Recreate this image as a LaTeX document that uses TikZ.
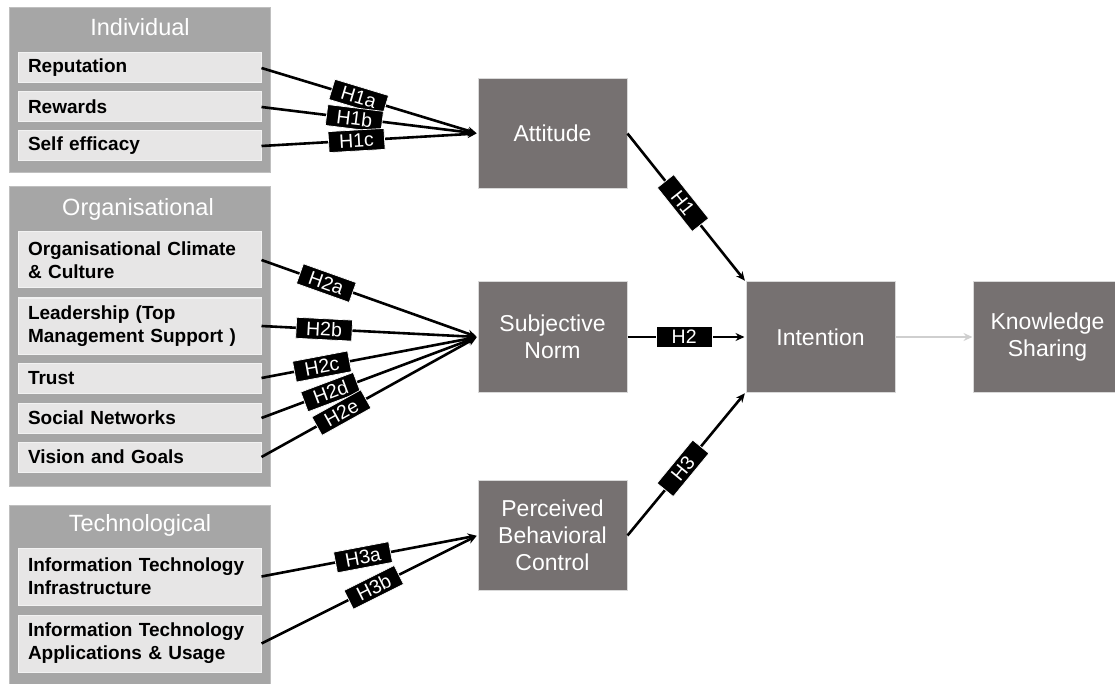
\documentclass[tikz,border=0pt]{standalone}
\usepackage{fontspec}
\setmainfont{Liberation Sans}
\usetikzlibrary{arrows.meta}
\definecolor{grp}{HTML}{A6A6A6}
\definecolor{grpb}{HTML}{BFBFBF}
\definecolor{itm}{HTML}{E7E6E6}
\definecolor{itmb}{HTML}{F2F2F2}
\definecolor{dark}{HTML}{767171}
\definecolor{darkb}{HTML}{D9D9D9}
\definecolor{ksarrow}{HTML}{CFCFCF}
\begin{document}
\begin{tikzpicture}[x=1pt,y=-1pt,
  grpbox/.style={fill=grp,draw=grpb,line width=1pt,minimum width=261pt,inner sep=0pt},
  grptitle/.style={text=white,font=\fontsize{23.5}{27}\selectfont,inner sep=0pt},
  itembox/.style={fill=itm,draw=itmb,line width=1pt,minimum width=243pt,text width=223pt,inner xsep=10pt,inner ysep=0pt,align=left,font=\bfseries\fontsize{19}{23}\selectfont},
  cbox/.style={fill=dark,draw=darkb,line width=1pt,minimum width=149pt,minimum height=110pt,text=white,align=center,font=\fontsize{23}{27}\selectfont},
  conn/.style={line width=2.6pt,-{Stealth[length=9pt,width=8pt]},shorten >=1pt},
  hlabel/.style={fill=black,draw=white,line width=0.7pt,text=white,font=\fontsize{19.5}{21}\selectfont,minimum width=56pt,minimum height=21pt,inner sep=0pt,sloped}]
\useasboundingbox (0,0) rectangle (1115,684);

% groups
\node[grpbox,minimum height=165pt] (gind) at (139.5,90.5) {};
\node[grpbox,minimum height=299pt] (gorg) at (139.5,336.5) {};
\node[grpbox,minimum height=180pt] (gtec) at (139.5,595) {};
\node[grptitle] (tind) at (140,27) {Individual};
\node[grptitle] (torg) at (138,209) {Organisational};
\node[grptitle] (ttec) at (140,525) {Technological};

% items
\node[itembox,minimum height=30pt] (rep) at (139.5,68) {Reputation};
\node[itembox,minimum height=30pt] (rew) at (139.5,107) {Rewards};
\node[itembox,minimum height=30pt] (self) at (139.5,146) {Self efficacy};
\node[itembox,minimum height=56pt] (clim) at (139.5,260) {Organisational Climate\\\& Culture};
\node[itembox,minimum height=56pt] (lead) at (139.5,326) {Leadership (Top\\Management Support )};
\node[itembox,minimum height=30pt] (trust) at (139.5,378) {Trust};
\node[itembox,minimum height=30pt] (soc) at (139.5,418) {Social Networks};
\node[itembox,minimum height=30pt] (vis) at (139.5,457) {Vision and Goals};
\node[itembox,minimum height=57pt] (itinf) at (139.5,576.5) {Information Technology\\Infrastructure};
\node[itembox,minimum height=57pt] (itapp) at (139.5,643.5) {Information Technology\\Applications \& Usage};

% central boxes
\node[cbox] (att) at (552.5,133.5) {Attitude};
\node[cbox] (sn) at (552.5,337) {Subjective\\Norm};
\node[cbox] (pbc) at (552.5,535.5) {Perceived\\Behavioral\\Control};
\node[cbox] (int) at (820.5,337) {Intention};
\node[cbox] (ks) at (1047.5,337) {Knowledge\\Sharing};

% connectors
\draw[conn] (rep.east) -- node[hlabel,pos=.45] (h1a) {H1a} (att.west);
\draw[conn] (rew.east) -- node[hlabel,pos=.43] (h1b) {H1b} (att.west);
\draw[conn] (self.east) -- node[hlabel,pos=.44] (h1c) {H1c} (att.west);

\draw[conn] (clim.east) -- node[hlabel,pos=.30] (h2a) {H2a} (sn.west);
\draw[conn] (lead.east) -- node[hlabel,pos=.29] (h2b) {H2b} (sn.west);
\draw[conn] (trust.east) -- node[hlabel,pos=.28] (h2c) {H2c} (sn.west);
\draw[conn] (soc.east) -- node[hlabel,pos=.32] (h2d) {H2d} (sn.west);
\draw[conn] (vis.east) -- node[hlabel,pos=.37] (h2e) {H2e} (sn.west);

\draw[conn] (itinf.east) -- node[hlabel,pos=.47] (h3a) {H3a} (pbc.west);
\draw[conn] (itapp.east) -- node[hlabel,pos=.52] (h3b) {H3b} (pbc.west);

\draw[conn] (att.east) -- node[hlabel,pos=.47] (h1) {H1} (int.north west);
\draw[conn] (sn.east) -- node[hlabel,pos=.48] (h2) {H2} (int.west);
\draw[conn] (pbc.east) -- node[hlabel,pos=.47] (h3) {H3} (int.south west);

\draw[line width=2.6pt,draw=ksarrow,-{Stealth[length=9pt,width=8pt,open]}] (int.east) -- (ks.west);
\end{tikzpicture}
\end{document}
